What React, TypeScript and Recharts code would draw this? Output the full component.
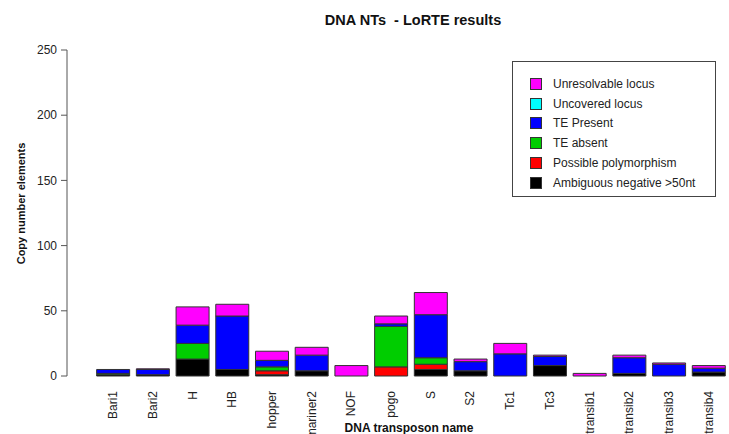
import { BarChart, Bar, XAxis, YAxis, Legend } from "recharts";

const categories = [
  "Bari1", "Bari2", "H", "HB", "hopper", "mariner2", "NOF", "pogo",
  "S", "S2", "Tc1", "Tc3", "transib1", "transib2", "transib3", "transib4",
];

// stacked from the bottom up
const ambiguous = [1, 1, 13, 5, 1, 4, 0, 0, 5, 4, 0, 8, 0, 2, 0, 3];
const polymorphism = [0, 0, 0, 0, 3, 0, 0, 7, 4, 0, 0, 0, 0, 0, 0, 0];
const absent = [1, 0, 12, 0, 3, 0, 0, 31, 5, 0, 0, 0, 0, 0, 0, 0];
const present = [3, 4, 14, 41, 5, 12, 0, 2, 33, 7, 17, 7, 0, 12, 9, 3];
const uncovered = [0, 0, 0, 0, 0, 0, 0, 0, 0, 0, 0, 0, 0, 0, 0, 0];
const unresolvable = [0, 0.5, 14, 9, 7, 6, 8, 6, 17, 2, 8, 1, 2, 2, 1, 2];

const yTicks = [0, 50, 100, 150, 200, 250];

const series = [
  { key: "ambiguous", name: "Ambiguous negative >50nt", color: "#000000", values: ambiguous },
  { key: "polymorphism", name: "Possible polymorphism", color: "#ff0000", values: polymorphism },
  { key: "absent", name: "TE absent", color: "#00cd00", values: absent },
  { key: "present", name: "TE Present", color: "#0000ff", values: present },
  { key: "uncovered", name: "Uncovered locus", color: "#00ffff", values: uncovered },
  { key: "unresolvable", name: "Unresolvable locus", color: "#ff00ff", values: unresolvable },
];

const data = categories.map((name, i) => {
  const row: any = { name };
  series.forEach((s) => {
    row[s.key] = s.values[i];
  });
  return row;
});

const FONT = "'Liberation Sans', Arial, sans-serif";

const CategoryTick = (props: any) => {
  const { x, y, payload } = props;
  return (
    <text
      x={x}
      y={y + 7}
      transform={`rotate(-90 ${x} ${y + 7})`}
      textAnchor="end"
      dy="0.3em"
      fontSize={12}
      fontFamily={FONT}
      fill="#222"
    >
      {payload.value}
    </text>
  );
};

const LegendBox = () => (
  <div
    style={{
      border: "1px solid #444",
      width: 204,
      height: 136,
      boxSizing: "border-box",
      paddingTop: 12,
      paddingLeft: 17,
      fontFamily: FONT,
      fontSize: 12,
      color: "#222",
      background: "#fff",
    }}
  >
    {[...series].reverse().map((s) => (
      <div key={s.key} style={{ display: "flex", alignItems: "center", height: 19.8 }}>
        <span
          style={{
            display: "inline-block",
            width: 10,
            height: 10,
            background: s.color,
            border: "1px solid #333",
            marginRight: 11,
          }}
        />
        {s.name}
      </div>
    ))}
  </div>
);

export default function App() {
  return (
    <div style={{ position: "absolute", left: 0, top: 0, width: 729, height: 434, background: "#fff" }}>
      <div
        style={{
          position: "absolute",
          left: 0,
          width: 826,
          top: 12,
          textAlign: "center",
          fontFamily: FONT,
          fontWeight: "bold",
          fontSize: 14.5,
          whiteSpace: "pre",
          color: "#111",
        }}
      >
        {"DNA NTs  - LoRTE results"}
      </div>
      <BarChart
        width={729}
        height={434}
        data={data}
        margin={{ top: 50, right: 0, bottom: 0, left: 0 }}
        barSize={33}
      >
        <XAxis
          dataKey="name"
          height={58}
          axisLine={false}
          tickLine={false}
          interval={0}
          padding={{ left: 26.65, right: 0 }}
          tick={<CategoryTick />}
          label={{
            value: "DNA transposon name",
            position: "center",
            dx: 11,
            dy: 23,
            style: { fontFamily: FONT, fontWeight: "bold", fontSize: 12, fill: "#111" },
          }}
        />
        <YAxis
          width={67}
          domain={[0, 250]}
          ticks={yTicks}
          interval={0}
          stroke="#555"
          tickSize={6}
          tickMargin={4}
          tick={{ fontFamily: FONT, fontSize: 12, fill: "#222" }}
          label={{
            value: "Copy number elements",
            angle: -90,
            position: "center",
            dx: -12,
            dy: -9.5,
            style: { fontFamily: FONT, fontWeight: "bold", fontSize: 11, fill: "#111", textAnchor: "middle" },
          }}
        />
        <Legend
          layout="vertical"
          align="center"
          verticalAlign="middle"
          wrapperStyle={{ left: 512, top: 61, width: 204, height: 136 }}
          content={<LegendBox />}
        />
        {series.map((s) => (
          <Bar
            key={s.key}
            dataKey={s.key}
            name={s.name}
            stackId="a"
            fill={s.color}
            stroke="#333"
            strokeWidth={1}
            isAnimationActive={false}
          />
        ))}
      </BarChart>
    </div>
  );
}
